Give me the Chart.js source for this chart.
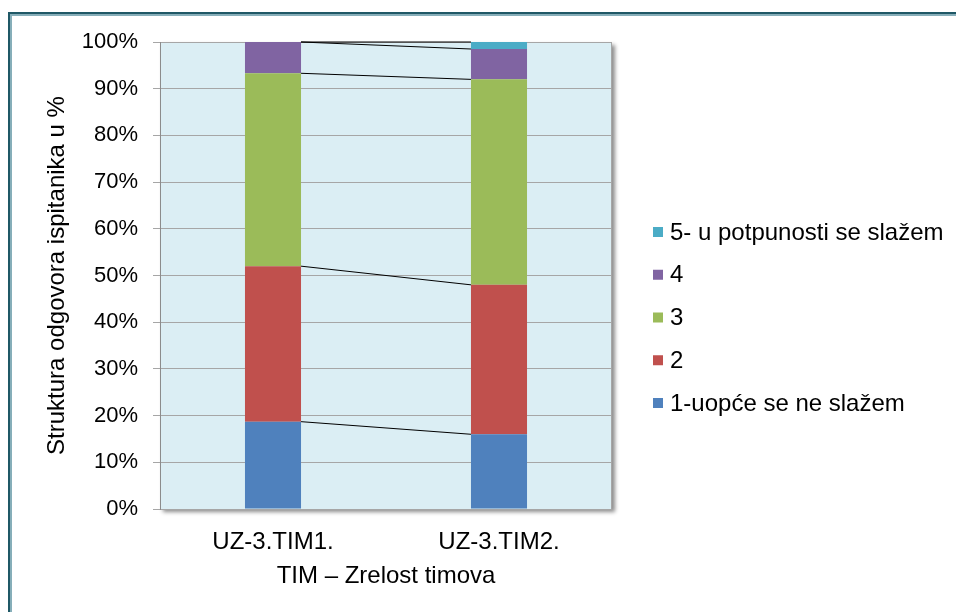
<!DOCTYPE html>
<html>
<head>
<meta charset="utf-8">
<script src="https://cdn.jsdelivr.net/npm/chart.js@4"></script>
<style>
  html, body { margin: 0; padding: 0; background: #fff; }
  #wrap { position: relative; width: 956px; height: 612px; overflow: hidden; }
  #frame {
    position: absolute; left: 8px; top: 12px; width: 1000px; height: 700px;
    border-left: 2px solid #1f5866; border-top: 2px solid #1f5866;
    box-shadow: inset 2px 2px 0 #86aeb9;
  }
  canvas { position: absolute; left: 0; top: 0; }
</style>
</head>
<body>
<div id="wrap">
  <div id="frame"></div>
  <canvas id="myChart" width="956" height="612"></canvas>
</div>
<script>
'use strict';

// categories and answer groups
const categories = ['UZ-3.TIM1.', 'UZ-3.TIM2.'];
const seriesLabels = ['1-uopće se ne slažem', '2', '3', '4', '5- u potpunosti se slažem'];
const seriesColors = ['#4f81bd', '#c0504d', '#9bbb59', '#8064a2', '#4bacc6'];

// share of answers in %
const answers1 = [18.7, 16.0];
const answers2 = [33.3, 32.0];
const answers3 = [41.3, 44.0];
const answers4 = [6.7, 6.5];
const answers5 = [0, 1.5];
const seriesValues = [answers1, answers2, answers3, answers4, answers5];

const yTicks = [0, 10, 20, 30, 40, 50, 60, 70, 80, 90, 100];

const fontFamily = "'Liberation Sans', Arial, sans-serif";

// plot area fill + shadow
const plotBg = {
    id: 'plotBg',
    beforeDraw(chart) {
        const {ctx, chartArea: a} = chart;
        ctx.save();
        ctx.shadowColor = 'rgba(0,0,0,0.45)';
        ctx.shadowOffsetX = 3;
        ctx.shadowOffsetY = 3;
        ctx.shadowBlur = 4;
        ctx.fillStyle = '#dbeef4';
        ctx.fillRect(a.left, a.top, a.right - a.left, a.bottom - a.top);
        ctx.restore();
        ctx.save();
        ctx.strokeStyle = '#a6a6a6';
        ctx.lineWidth = 1;
        ctx.strokeRect(a.left + 0.5, a.top + 0.5, a.right - a.left - 1, a.bottom - a.top);
        ctx.restore();
    }
};

// excel style series lines between the stacked bars
const seriesLines = {
    id: 'seriesLines',
    afterDatasetsDraw(chart) {
        const ctx = chart.ctx;
        ctx.save();
        ctx.strokeStyle = '#000';
        ctx.lineWidth = 1;
        chart.data.datasets.forEach((ds, i) => {
            const bars = chart.getDatasetMeta(i).data;
            for (let j = 0; j < bars.length - 1; j++) {
                const a = bars[j], b = bars[j + 1];
                ctx.beginPath();
                ctx.moveTo(a.x + a.width / 2, a.y);
                ctx.lineTo(b.x - b.width / 2, b.y);
                ctx.stroke();
            }
        });
        ctx.restore();
    }
};

// legend on the right, reversed like excel
const sideLegend = {
    id: 'sideLegend',
    afterDraw(chart) {
        const ctx = chart.ctx;
        const items = chart.data.datasets.map((ds) => ({label: ds.label, color: ds.backgroundColor})).reverse();
        ctx.save();
        ctx.font = '24px ' + fontFamily;
        ctx.textBaseline = 'middle';
        ctx.textAlign = 'left';
        items.forEach((it, k) => {
            const y = 232 + k * 42.75;
            ctx.fillStyle = it.color;
            ctx.fillRect(653, y - 5, 10, 10);
            ctx.fillStyle = '#000';
            ctx.fillText(it.label, 670, y + 1);
        });
        ctx.restore();
    }
};

const data = {
    labels: categories,
    datasets: seriesLabels.map((label, i) => ({
        label: label,
        data: seriesValues[i],
        backgroundColor: seriesColors[i],
        borderWidth: 0,
        categoryPercentage: 1,
        barPercentage: 0.248
    }))
};

const options = {
    responsive: false,
    animation: false,
    layout: { padding: { top: 42, right: 344, left: 0, bottom: 0 } },
    plugins: {
        legend: { display: false },
        tooltip: { enabled: false }
    },
    scales: {
        x: {
            stacked: true,
            grid: { display: false },
            border: { color: '#a6a6a6' },
            ticks: { color: '#000', padding: 11, font: { family: fontFamily, size: 24 } },
            title: {
                display: true,
                text: 'TIM – Zrelost timova',
                color: '#000',
                font: { family: fontFamily, size: 24 },
                padding: { top: 0, bottom: 21 }
            },
            afterFit(scale) { scale.height = 103; }
        },
        y: {
            stacked: true,
            min: 0,
            max: 100,
            afterBuildTicks(scale) { scale.ticks = yTicks.map((v) => ({value: v})); },
            grid: { color: '#a6a6a6', tickLength: 7, lineWidth: 1 },
            border: { color: '#8c8c8c' },
            ticks: {
                color: '#000',
                padding: 15,
                font: { family: fontFamily, size: 22 },
                callback: (v) => v + '%'
            },
            title: {
                display: true,
                text: 'Struktura odgovora ispitanika u %',
                color: '#000',
                font: { family: fontFamily, size: 24 },
                padding: { top: 43, bottom: 0 }
            },
            afterFit(scale) { scale.width = 160; }
        }
    }
};

const myChart = new Chart(document.getElementById('myChart'), {
    type: 'bar',
    data: data,
    options: options,
    plugins: [plotBg, seriesLines, sideLegend]
});
</script>
</body>
</html>
